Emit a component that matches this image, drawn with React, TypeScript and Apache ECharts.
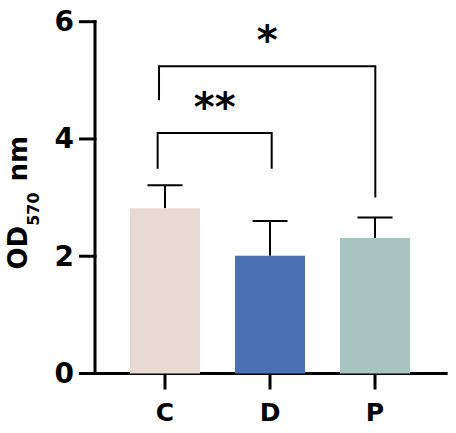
import React, { useEffect, useRef } from "react";
import * as echarts from "echarts";

const categories = ["C", "D", "P"];
const means = [2.82, 2.01, 2.31];
const sds = [0.39, 0.59, 0.35];
const barColors = ["#E9D9D3", "#4B71B4", "#A7C4C0"];
const yTicks = [0, 2, 4, 6];
// bracket: [xLeft, xRight, yTop, yLeftEnd, yRightEnd]
const brackets = [
  [-0.07, 1.016, 4.1, 3.49, 3.49],
  [-0.057, 2.003, 5.24, 4.66, 3.0],
];
const bracketLabels = ["**", "*"];
const yTitleMain = "OD";
const yTitleSub = "570";
const yTitleUnit = "nm";

// visible axis extent (data units)
const AX_X_MIN = -0.6667;
const AX_X_MAX = 2.692;
const AX_Y_MIN = 0;
const AX_Y_MAX = 6;
// full-canvas scale extent (so nothing falls outside the grid)
const FULL_X_MIN = -1.571429;
const FULL_X_MAX = 2.771429;
const FULL_Y_MIN = -1.01478;
const FULL_Y_MAX = 6.37009;

const FONT = "DejaVu Sans";
const AX = { stroke: "#000", lineWidth: 3 };

export default function App() {
  const ref = useRef<HTMLDivElement>(null);
  useEffect(() => {
    document.body.style.margin = "0";
    const chart = echarts.init(ref.current!, null, { renderer: "svg" });
    const option: any = {
      animation: false,
      grid: { left: 0, top: 0, right: 0, bottom: 0, containLabel: false },
      xAxis: { type: "value", min: FULL_X_MIN, max: FULL_X_MAX, show: false, splitLine: { show: false } },
      yAxis: { type: "value", min: FULL_Y_MIN, max: FULL_Y_MAX, show: false, splitLine: { show: false } },
      graphic: [
        {
          type: "group",
          silent: true,
          children: [
            {
              type: "text",
              x: 18.3,
              y: 269.5,
              rotation: Math.PI / 2,
              style: { text: yTitleMain, fontFamily: FONT, fontWeight: "bold", fontSize: 26, fill: "#000", align: "left", verticalAlign: "middle" },
            },
            {
              type: "text",
              x: 33,
              y: 225.8,
              rotation: Math.PI / 2,
              style: { text: yTitleSub, fontFamily: FONT, fontWeight: "bold", fontSize: 16, fill: "#000", align: "left", verticalAlign: "middle" },
            },
            {
              type: "text",
              x: 18.3,
              y: 181.5,
              rotation: Math.PI / 2,
              style: { text: yTitleUnit, fontFamily: FONT, fontWeight: "bold", fontSize: 26, fill: "#000", align: "left", verticalAlign: "middle" },
            },
          ],
        },
      ],
      series: [
        {
          type: "bar",
          barWidth: 70,
          data: means.map((m, i) => ({ value: [i, m], itemStyle: { color: barColors[i] } })),
        },
        {
          type: "custom",
          silent: true,
          data: means.map((m, i) => [i, m, sds[i]]),
          encode: { x: 0, y: 1 },
          renderItem: (params: any, api: any) => {
            const x = api.value(0);
            const m = api.value(1);
            const s = api.value(2);
            const base = api.coord([x, m]);
            const top = api.coord([x, m + s]);
            const st = { stroke: "#000", lineWidth: 2 };
            return {
              type: "group",
              children: [
                { type: "line", shape: { x1: base[0], y1: base[1], x2: top[0], y2: top[1] }, style: st },
                { type: "line", shape: { x1: top[0] - 17.5, y1: top[1], x2: top[0] + 17.5, y2: top[1] }, style: st },
              ],
            };
          },
        },
        {
          // y axis line, ticks and tick labels
          type: "custom",
          silent: true,
          data: yTicks.map((v) => [AX_X_MIN, v]),
          encode: { x: 0, y: 1 },
          renderItem: (params: any, api: any) => {
            const v = api.value(1);
            const p = api.coord([api.value(0), v]);
            const children: any[] = [
              { type: "line", shape: { x1: p[0] - 16, y1: p[1], x2: p[0] + 1.5, y2: p[1] }, style: AX },
              {
                type: "text",
                x: p[0] - 21,
                y: p[1],
                style: { text: String(v), fontFamily: FONT, fontWeight: "bold", fontSize: 28, fill: "#000", align: "right", verticalAlign: "middle" },
              },
            ];
            if (params.dataIndex === 0) {
              const b = api.coord([AX_X_MIN, AX_Y_MIN]);
              const t = api.coord([AX_X_MIN, AX_Y_MAX]);
              children.push({ type: "line", shape: { x1: b[0], y1: b[1] + 1.5, x2: t[0], y2: t[1] - 1.5 }, style: AX });
            }
            return { type: "group", children };
          },
        },
        {
          // x axis line, ticks and category labels
          type: "custom",
          silent: true,
          data: categories.map((c, i) => [i, AX_Y_MIN]),
          encode: { x: 0, y: 1 },
          renderItem: (params: any, api: any) => {
            const p = api.coord([api.value(0), api.value(1)]);
            const children: any[] = [
              { type: "line", shape: { x1: p[0], y1: p[1], x2: p[0], y2: p[1] + 16 }, style: AX },
              {
                type: "text",
                x: p[0],
                y: p[1] + 39,
                style: { text: categories[params.dataIndex], fontFamily: FONT, fontWeight: "bold", fontSize: 25, fill: "#000", align: "center", verticalAlign: "middle" },
              },
            ];
            if (params.dataIndex === 0) {
              const l = api.coord([AX_X_MIN, AX_Y_MIN]);
              const r = api.coord([AX_X_MAX, AX_Y_MIN]);
              children.push({ type: "line", shape: { x1: l[0], y1: l[1], x2: r[0], y2: r[1] }, style: AX });
            }
            return { type: "group", children };
          },
        },
        {
          type: "custom",
          silent: true,
          data: brackets.map((b) => [...b]),
          encode: { x: [0, 1], y: [2, 3, 4] },
          renderItem: (params: any, api: any) => {
            const x1 = api.value(0);
            const x2 = api.value(1);
            const yt = api.value(2);
            const yl = api.value(3);
            const yr = api.value(4);
            const pLB = api.coord([x1, yl]);
            const pLT = api.coord([x1, yt]);
            const pRT = api.coord([x2, yt]);
            const pRB = api.coord([x2, yr]);
            const mx = (pLT[0] + pRT[0]) / 2;
            return {
              type: "group",
              children: [
                {
                  type: "polyline",
                  shape: { points: [pLB, pLT, pRT, pRB] },
                  style: { stroke: "#000", lineWidth: 2, fill: "none" },
                },
                {
                  type: "text",
                  x: mx,
                  y: pLT[1] - 26,
                  style: {
                    text: bracketLabels[params.dataIndex],
                    fontFamily: FONT,
                    fontWeight: "bold",
                    fontSize: 40,
                    fill: "#000",
                    align: "center",
                    verticalAlign: "middle",
                  },
                },
              ],
            };
          },
        },
      ],
    };
    chart.setOption(option);
    return () => chart.dispose();
  }, []);
  return (
    <div style={{ position: "relative", width: 456, height: 433, background: "#fff" }}>
      <div ref={ref} style={{ position: "absolute", left: 0, top: 0, width: 456, height: 433 }} />
    </div>
  );
}
